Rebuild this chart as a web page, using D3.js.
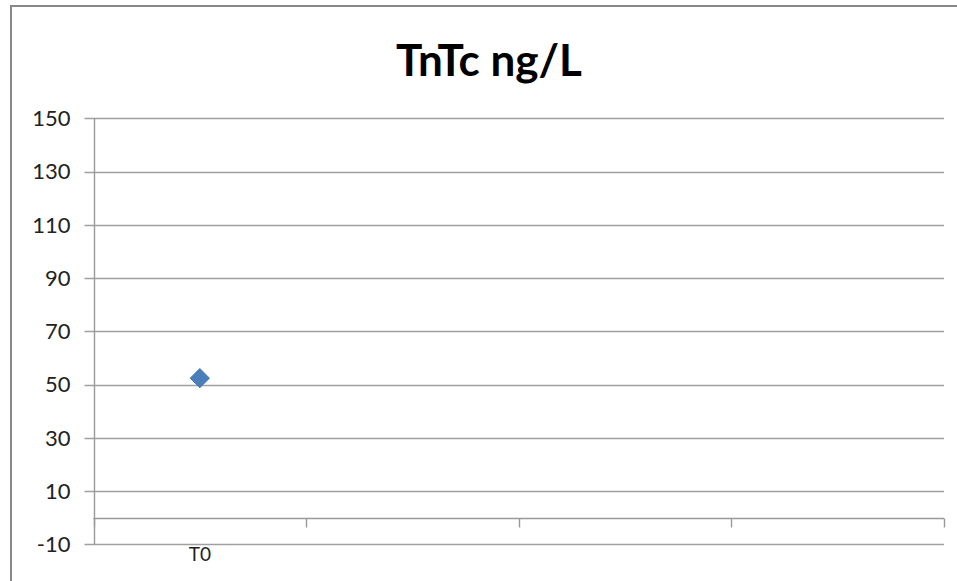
<!DOCTYPE html>
<html>
<head>
<meta charset="utf-8">
<script src="https://cdn.jsdelivr.net/npm/d3@7"></script>
<style>
  body { margin: 0; background: #fff; }
  svg { display: block; }
</style>
</head>
<body>
<div id="chart"></div>
<script>
// chart values
const categories = ['T0', '', '', '']
const seriesValues = [52.4, null, null, null]
const yTicks = [-10, 10, 30, 50, 70, 90, 110, 130, 150]
const chartTitle = 'TnTc ng/L'

const width = 957, height = 581
const margin = {left: 93.5, right: 13, top: 118.3, bottom: 36.7}

const svg = d3.select('#chart').append('svg')
    .attr('width', width)
    .attr('height', height)

// outer chart frame (cut off on right and bottom like the reference)
svg.append('rect')
    .attr('x', 11).attr('y', 6)
    .attr('width', 960).attr('height', 600)
    .attr('fill', '#fff')
    .attr('stroke', '#888')
    .attr('stroke-width', 2)

const x = d3.scaleBand()
    .domain(categories.map((d, i) => i))
    .range([margin.left, width - margin.right])

const y = d3.scaleLinear()
    .domain([-10, 150])
    .range([height - margin.bottom, margin.top])

// gridlines
svg.append('g')
    .selectAll('line')
    .data(yTicks)
    .join('line')
    .attr('x1', margin.left - 9)
    .attr('x2', width - margin.right)
    .attr('y1', d => Math.round(y(d)) + 0.5)
    .attr('y2', d => Math.round(y(d)) + 0.5)
    .attr('stroke', '#a0a0a0')
    .attr('stroke-width', 1.3)

// y axis labels
svg.append('g')
    .selectAll('text')
    .data(yTicks)
    .join('text')
    .attr('x', margin.left - 23)
    .attr('y', d => y(d))
    .attr('dy', '0.36em')
    .attr('text-anchor', 'end')
    .attr('font-family', 'Lato, sans-serif')
    .attr('font-size', 22)
    .attr('fill', '#222')
    .text(d => d)

// y axis line
svg.append('line')
    .attr('x1', Math.round(margin.left) + 0.5)
    .attr('x2', Math.round(margin.left) + 0.5)
    .attr('y1', y(150))
    .attr('y2', y(-10))
    .attr('stroke', '#999')
    .attr('stroke-width', 1.4)

// x axis at zero with category ticks
const y0 = Math.round(y(0)) + 0.5
svg.append('line')
    .attr('x1', margin.left).attr('x2', width - margin.right)
    .attr('y1', y0).attr('y2', y0)
    .attr('stroke', '#999')
    .attr('stroke-width', 1.4)
svg.append('g')
    .selectAll('line')
    .data(d3.range(categories.length + 1))
    .join('line')
    .attr('x1', i => Math.round(margin.left + i * x.step()) + 0.5)
    .attr('x2', i => Math.round(margin.left + i * x.step()) + 0.5)
    .attr('y1', y0)
    .attr('y2', y0 + 9)
    .attr('stroke', '#999')
    .attr('stroke-width', 1.4)

// category labels
svg.append('g')
    .selectAll('text')
    .data(categories)
    .join('text')
    .attr('x', (d, i) => x(i) + x.bandwidth() / 2)
    .attr('y', height - 27)
    .attr('dy', '0.36em')
    .attr('text-anchor', 'middle')
    .attr('font-family', 'Lato, sans-serif')
    .attr('font-size', 19)
    .attr('fill', '#222')
    .text(d => d)

// series markers
const diamond = d3.symbol().type(d3.symbolDiamond2).size(240)
svg.append('g')
    .selectAll('path')
    .data(seriesValues.map((v, i) => ({v, i})).filter(d => d.v != null))
    .join('path')
    .attr('d', diamond)
    .attr('transform', d => 'translate(' + (x(d.i) + x.bandwidth() / 2) + ',' + y(d.v) + ')')
    .attr('fill', '#4a7ebb')
    .attr('stroke', '#3d6fa8')
    .attr('stroke-width', 0.8)

// title
svg.append('text')
    .attr('x', 489)
    .attr('y', 76)
    .attr('text-anchor', 'middle')
    .attr('font-family', 'Lato, sans-serif')
    .attr('font-weight', 'bold')
    .attr('font-size', 44)
    .attr('fill', '#000')
    .text(chartTitle)
</script>
</body>
</html>
